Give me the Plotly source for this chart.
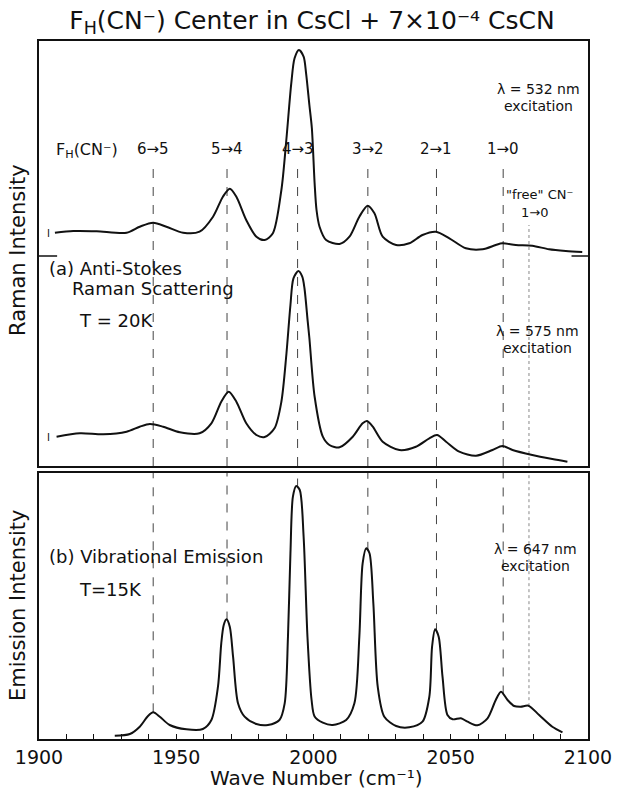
import numpy as np
import plotly.graph_objects as go

# ---------------- data ----------------
# Upper Raman trace, lambda = 532 nm (intensity relative to its own zero line)
WN_532 = [1905.8, 1912.5, 1921.0, 1931.9, 1936.7, 1941.6, 1946.4, 1952.5, 1958.5, 1963.4,
          1967.0, 1969.5, 1971.9, 1975.5, 1979.2, 1982.2, 1985.2, 1988.3, 1990.1, 1991.9,
          1993.1, 1994.7, 1996.4, 1997.3, 1998.5, 1999.4, 2000.4, 2001.1, 2002.2, 2004.6,
          2009.5, 2013.1, 2016.7, 2019.7, 2022.2, 2025.2, 2030.1, 2034.9, 2039.7, 2044.6,
          2049.5, 2055.5, 2061.6, 2066.4, 2068.8, 2073.7, 2079.7, 2085.8, 2091.9, 2097.9]
I_532 = [23.3, 25.0, 24.8, 23.3, 29.3, 33.3, 29.3, 23.3, 24.3, 39.3,
         59.3, 67.3, 59.3, 36.0, 19.3, 16.0, 22.7, 66.0, 116.0, 172.7,
         197.7, 206.0, 199.3, 182.7, 151.0, 128.0, 73.0, 46.0, 29.3, 16.0,
         12.0, 19.3, 39.3, 50.3, 42.7, 19.3, 11.0, 12.7, 21.0, 24.3,
         17.7, 7.7, 6.7, 11.0, 12.7, 11.0, 10.3, 6.7, 5.0, 4.0]

# Lower Raman trace, lambda = 575 nm
WN_575 = [1906.4, 1914.9, 1923.4, 1931.9, 1936.7, 1940.4, 1945.2, 1951.3, 1958.5, 1962.8,
          1966.4, 1969.1, 1971.9, 1975.5, 1979.2, 1982.2, 1985.8, 1988.3, 1990.1, 1991.6,
          1992.7, 1994.5, 1995.9, 1996.7, 1997.9, 1998.5, 2000.4, 2003.4, 2005.8, 2009.5,
          2014.3, 2017.9, 2019.5, 2021.6, 2025.2, 2031.3, 2037.3, 2042.2, 2045.0, 2048.3,
          2053.1, 2059.2, 2065.2, 2068.8, 2072.5, 2079.7, 2087.0, 2092.5]
I_575 = [29.3, 32.7, 31.7, 34.3, 39.3, 42.0, 39.3, 33.7, 32.7, 42.7,
         64.3, 74.3, 64.3, 42.7, 31.0, 29.0, 37.7, 64.3, 111.0, 161.0,
         187.7, 195.0, 189.3, 178.0, 144.3, 128.0, 69.5, 29.3, 21.0, 18.7,
         29.3, 42.7, 45.0, 39.3, 24.3, 16.0, 19.3, 27.7, 31.0, 24.3,
         14.3, 10.3, 16.0, 20.0, 16.0, 11.0, 7.0, 4.3]

# Vibrational emission, lambda = 647 nm
WN_EM = [1927.6, 1933.1, 1936.7, 1939.7, 1941.6, 1944.0, 1947.6, 1953.7, 1959.7, 1962.8,
         1965.2, 1966.4, 1967.3, 1968.3, 1969.5, 1970.7, 1972.5, 1974.9, 1979.2, 1983.4,
         1987.6, 1989.5, 1990.7, 1991.6, 1992.5, 1993.7, 1995.0, 1996.4, 1997.8, 1999.3,
         2000.4, 2003.4, 2007.0, 2011.9, 2014.9, 2016.7, 2017.9, 2019.2, 2020.4, 2021.8,
         2023.4, 2025.8, 2030.1, 2034.9, 2039.7, 2042.2, 2043.2, 2044.3, 2045.6, 2047.0,
         2048.8, 2050.7, 2053.7, 2056.1, 2059.7, 2063.4, 2066.4, 2068.3, 2070.7, 2073.1,
         2075.5, 2078.3, 2082.2, 2087.0, 2090.7]
I_EM = [3.3, 5.0, 12.3, 23.0, 26.7, 22.3, 14.0, 9.7, 10.0, 19.0,
        52.3, 95.7, 114.0, 119.7, 112.3, 82.3, 35.7, 22.3, 15.0, 14.0,
        19.0, 35.7, 102.3, 185.7, 242.3, 253.0, 249.0, 202.3, 102.3, 39.0,
        22.5, 16.3, 14.0, 19.0, 35.7, 102.3, 175.7, 190.7, 185.7, 135.7,
        52.3, 22.3, 13.0, 11.7, 17.3, 42.3, 92.3, 109.7, 102.3, 62.3,
        24.0, 19.7, 20.7, 17.3, 13.7, 20.7, 39.0, 47.3, 39.0, 33.0,
        32.3, 33.3, 24.0, 12.3, 6.7]

LINE_WN = [1941.6, 1968.5, 1994.2, 2019.8, 2044.8, 2069.1]
LINE_LABELS = ["6→5", "5→4", "4→3", "3→2", "2→1", "1→0"]
FREE_WN = 2078.5
X_TICKS = [1900, 1950, 2000, 2050, 2100]

# ---------------- layout constants ----------------
W, H = 618, 791
OFFSET_532 = 210          # zero line of the upper Raman trace in top-panel units
TOP_RANGE = [0, 425]
BOT_RANGE = [0, 266]
FONT = "DejaVu Sans"
INK = "#111111"

fig = go.Figure()
fig.add_trace(go.Scatter(x=WN_532, y=[v + OFFSET_532 for v in I_532], mode="lines",
                         line=dict(color=INK, width=2, shape="spline", smoothing=0.8),
                         xaxis="x2", yaxis="y2", hoverinfo="skip"))
fig.add_trace(go.Scatter(x=WN_575, y=I_575, mode="lines",
                         line=dict(color=INK, width=2, shape="spline", smoothing=0.8),
                         xaxis="x2", yaxis="y2", hoverinfo="skip"))
fig.add_trace(go.Scatter(x=WN_EM, y=I_EM, mode="lines",
                         line=dict(color=INK, width=2, shape="spline", smoothing=0.8),
                         xaxis="x", yaxis="y", hoverinfo="skip"))

shapes = []
# dashed transition lines
for wn in LINE_WN:
    shapes.append(dict(type="line", xref="x2", yref="y2", x0=wn, x1=wn, y0=0, y1=306,
                       line=dict(color="#444", width=1, dash="dash"), layer="below"))
    peak = float(np.interp(wn, WN_EM, I_EM))
    shapes.append(dict(type="line", xref="x", yref="y", x0=wn, x1=wn, y0=peak, y1=BOT_RANGE[1],
                       line=dict(color="#444", width=1, dash="dash"), layer="below"))
shapes.append(dict(type="line", xref="x2", yref="y2", x0=FREE_WN, x1=FREE_WN, y0=0, y1=241,
                   line=dict(color="#888", width=1, dash="dot"), layer="below"))
shapes.append(dict(type="line", xref="x", yref="y", x0=FREE_WN, x1=FREE_WN,
                   y0=float(np.interp(FREE_WN, WN_EM, I_EM)), y1=BOT_RANGE[1],
                   line=dict(color="#888", width=1, dash="dot"), layer="below"))
# separator ticks between the two Raman traces
shapes.append(dict(type="line", xref="x2 domain", yref="y2", x0=0, x1=0.033,
                   y0=OFFSET_532, y1=OFFSET_532, line=dict(color=INK, width=1.5)))
shapes.append(dict(type="line", xref="x2 domain", yref="y2", x0=0.97, x1=1,
                   y0=OFFSET_532, y1=OFFSET_532, line=dict(color=INK, width=1.5)))

ann = []
def A(text, x, y, xr="x2", yr="y2", size=14, xa="center", ya="middle", **kw):
    ann.append(dict(text=text, x=x, y=y, xref=xr, yref=yr, showarrow=False,
                    font=dict(family=FONT, size=size, color=INK), xanchor=xa, yanchor=ya, **kw))

A("F<sub>H</sub>(CN⁻)", 1905.5, 316, size=16, xa="left")
for wn, lab in zip(LINE_WN, LINE_LABELS):
    A(lab, wn, 317, size=15)
A("λ = 532 nm", 2081.8, 377, size=14)
A("excitation", 2081.8, 360, size=14)
A("\"free\" CN⁻", 2082.5, 272, size=13)
A("1→0", 2080.4, 254, size=13)
A("(a) Anti-Stokes", 1902.9, 198, size=18, xa="left")
A("Raman Scattering", 1911.3, 178, size=18, xa="left")
A("T = 20K", 1913.8, 146, size=18, xa="left")
A("λ = 575 nm", 2081.5, 135, size=14)
A("excitation", 2081.5, 118, size=14)
A("I", 1903.5, OFFSET_532 + I_532[0] - 1, size=10)
A("I", 1903.5, I_575[0] - 1, size=10)
A("(b) Vibrational Emission", 1902.9, 183, xr="x", yr="y", size=18, xa="left")
A("T=15K", 1913.8, 150, xr="x", yr="y", size=18, xa="left")
A("λ = 647 nm", 2080.7, 190, xr="x", yr="y", size=14)
A("excitation", 2080.7, 173, xr="x", yr="y", size=14)
# axis titles
ann.append(dict(text="Raman Intensity", x=18 / W, y=1 - 250 / H, xref="paper", yref="paper",
                showarrow=False, textangle=-90, font=dict(family=FONT, size=21, color=INK),
                xanchor="center", yanchor="middle"))
ann.append(dict(text="Emission Intensity", x=18 / W, y=1 - 605 / H, xref="paper", yref="paper",
                showarrow=False, textangle=-90, font=dict(family=FONT, size=21, color=INK),
                xanchor="center", yanchor="middle"))
ann.append(dict(text="Wave Number (cm⁻¹)", x=316 / W, y=1 - 778 / H, xref="paper",
                yref="paper", showarrow=False, font=dict(family=FONT, size=20, color=INK),
                xanchor="center", yanchor="middle"))

# convert pixel layout to paper fractions (margins 0 -> paper == full page)
L, R = 39 / W, 588 / W
top_dom = [1 - 466 / H, 1 - 41 / H]
bot_dom = [1 - 739 / H, 1 - 473 / H]

axis_common = dict(showgrid=False, zeroline=False, showline=True, linecolor=INK,
                   linewidth=1.5, mirror=True, automargin=False)
fig.update_layout(
    width=W, height=H, margin=dict(l=0, r=0, t=0, b=0, autoexpand=False),
    paper_bgcolor="white", plot_bgcolor="white", showlegend=False,
    title=dict(text="F<sub>H</sub>(CN⁻) Center in CsCl + 7×10⁻⁴ CsCN",
               x=312 / W, xanchor="center", y=1 - 20 / H, yanchor="middle",
               font=dict(family=FONT, size=25, color=INK)),
    xaxis=dict(domain=[L, R], range=[1900, 2100], anchor="y", tickvals=X_TICKS,
               ticks="inside", ticklen=5, tickcolor=INK,
               minor=dict(dtick=10, ticks="inside", ticklen=5, tickcolor=INK),
               tickfont=dict(family=FONT, size=19, color=INK), **axis_common),
    yaxis=dict(domain=bot_dom, range=BOT_RANGE, anchor="x", showticklabels=False,
               ticks="", **axis_common),
    xaxis2=dict(domain=[L, R], range=[1900, 2100], anchor="y2", matches="x",
                showticklabels=False, ticks="", **axis_common),
    yaxis2=dict(domain=top_dom, range=TOP_RANGE, anchor="x2", showticklabels=False,
                ticks="", **axis_common),
    shapes=shapes, annotations=ann,
)

fig.write_html("out.html")
